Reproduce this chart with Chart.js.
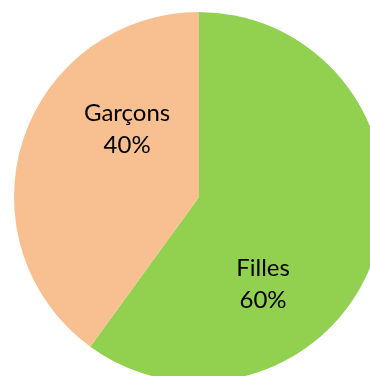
<!DOCTYPE html>
<html>
<head>
<meta charset="utf-8">
<script src="https://cdn.jsdelivr.net/npm/chart.js@4/dist/chart.umd.min.js"></script>
<style>
  html, body { margin: 0; padding: 0; background: #fff; overflow: hidden; width: 370px; height: 376px; }
  #wrap { position: absolute; left: 14px; top: 12px; width: 370px; height: 370px; }
</style>
</head>
<body>
<div id="wrap"><canvas id="c"></canvas></div>
<script>
// Répartition des élèves
const categories = ['Filles', 'Garçons'];
const values = [60, 40];
const colors = ['#92D050', '#F8C090'];
// label placement inside each slice: angle (deg, clockwise from top) and radius fraction
const labelAngles = [143.7, 313.4];
const labelRadii = [0.585, 0.535];

const sliceLabels = {
  id: 'sliceLabels',
  afterDatasetsDraw(chart) {
    const ctx = chart.ctx;
    const meta = chart.getDatasetMeta(0);
    const total = values.reduce((a, b) => a + b, 0);
    ctx.save();
    ctx.fillStyle = '#000';
    ctx.font = '24px Lato, "Open Sans", sans-serif';
    ctx.textAlign = 'center';
    ctx.textBaseline = 'middle';
    meta.data.forEach((arc, i) => {
      const a = labelAngles[i] * Math.PI / 180;
      const r = arc.outerRadius * labelRadii[i];
      const x = arc.x + r * Math.sin(a);
      const y = arc.y - r * Math.cos(a);
      const pct = Math.round(values[i] / total * 100) + '%';
      ctx.fillText(categories[i], x, y - 16);
      ctx.fillText(pct, x, y + 16);
    });
    ctx.restore();
  }
};

new Chart(document.getElementById('c'), {
  type: 'pie',
  data: {
    labels: categories,
    datasets: [{ data: values, backgroundColor: colors, borderWidth: 0 }]
  },
  options: {
    responsive: true,
    maintainAspectRatio: false,
    animation: false,
    layout: { padding: 0 },
    plugins: { legend: { display: false }, tooltip: { enabled: false } }
  },
  plugins: [sliceLabels]
});
</script>
</body>
</html>
